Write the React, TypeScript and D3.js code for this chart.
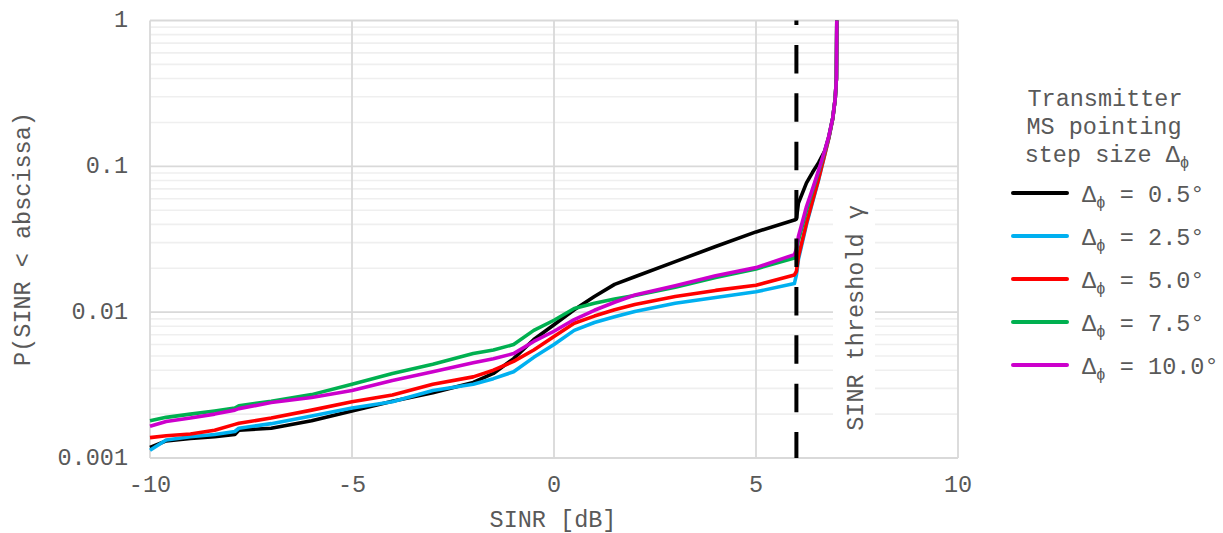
import React from "react";
import * as d3 from "d3";

// SINR grid (dB) shared by all empirical CDF curves
const sinrDb = [
  -10, -9.6, -9, -8.4, -7.9, -7.8, -7, -6, -5, -4,
  -3, -2, -1.5, -1, -0.5, 0, 0.5, 1, 1.5, 2,
  3, 4, 5, 5.95, 6, 6.05, 6.25, 6.4, 6.55, 6.7,
  6.8, 6.9, 6.96, 6.99, 7,
];

// P(SINR < abscissa) for each pointing step size
const pStep05 = [
  0.00118, 0.00131, 0.00136, 0.0014, 0.00145, 0.00155, 0.0016, 0.0018, 0.0021, 0.00245,
  0.0028, 0.0033, 0.0038, 0.0048, 0.0065, 0.0082, 0.0104, 0.0128, 0.0155, 0.0175,
  0.0222, 0.0282, 0.0355, 0.0428, 0.0435, 0.056, 0.077, 0.091, 0.106, 0.127,
  0.158, 0.215, 0.29, 0.4, 1,
];
const pStep25 = [
  0.00113, 0.00133, 0.0014, 0.00145, 0.00152, 0.0016, 0.00172, 0.00194, 0.0022, 0.00243,
  0.0029, 0.0032, 0.0035, 0.0039, 0.0049, 0.006, 0.0075, 0.0085, 0.0093, 0.0101,
  0.0115, 0.0126, 0.0138, 0.0157, 0.018, 0.023, 0.04, 0.057, 0.081, 0.12,
  0.155, 0.212, 0.29, 0.4, 1,
];
const pStep50 = [
  0.00138, 0.00142, 0.00146, 0.00155, 0.0017, 0.00173, 0.00188, 0.00213, 0.00243, 0.0027,
  0.0032, 0.0036, 0.004, 0.0046, 0.0055, 0.0068, 0.0084, 0.0094, 0.0104, 0.0113,
  0.0128, 0.0141, 0.0153, 0.018, 0.019, 0.024, 0.041, 0.058, 0.082, 0.12,
  0.155, 0.212, 0.29, 0.4, 1,
];
const pStep75 = [
  0.0018, 0.0019, 0.002, 0.0021, 0.0022, 0.00228, 0.00245, 0.00272, 0.0032, 0.0038,
  0.0044, 0.0052, 0.0055, 0.006, 0.0075, 0.0088, 0.0106, 0.0115, 0.0123, 0.013,
  0.0148, 0.0173, 0.0198, 0.0235, 0.026, 0.031, 0.05, 0.068, 0.092, 0.126,
  0.158, 0.215, 0.29, 0.4, 1,
];
const pStep100 = [
  0.00165, 0.00178, 0.00188, 0.002, 0.00213, 0.00218, 0.0024, 0.0026, 0.0029, 0.0034,
  0.0039, 0.0045, 0.0048, 0.0052, 0.0063, 0.0074, 0.0089, 0.0103, 0.0117, 0.0131,
  0.0152, 0.0178, 0.0202, 0.0248, 0.027, 0.033, 0.053, 0.07, 0.094, 0.128,
  0.16, 0.215, 0.29, 0.4, 1,
];

const seriesLabels = ["0.5°", "2.5°", "5.0°", "7.5°", "10.0°"];
const seriesValues = [pStep05, pStep25, pStep50, pStep75, pStep100];
const seriesColors = ["#000000", "#00b0f0", "#ff0000", "#00b050", "#cc00cc"];

const xTicks = [-10, -5, 0, 5, 10];
const yTicks = [0.001, 0.01, 0.1, 1];
const yTickLabels = ["0.001", "0.01", "0.1", "1"];
const thresholdDb = 6;

const W = 1223;
const H = 533;
const FONT = "'Liberation Mono', 'Courier New', monospace";
const TEXT = "#595959";

export default function App() {
  const x = d3.scaleLinear().domain([-10, 10]).range([150, 958]);
  const y = d3.scaleLog().domain([0.001, 1]).range([458, 20.5]);

  const minorTicks: number[] = [];
  for (let e = -3; e < 0; e++) {
    for (let m = 2; m <= 9; m++) minorTicks.push(m * Math.pow(10, e));
  }

  const line = d3
    .line<number>()
    .x((_, i) => x(sinrDb[i]))
    .y((d) => y(d));

  const legendX = 1013;
  const legendY0 = 193;
  const legendDy = 43;

  return (
    <div style={{ position: "absolute", left: 0, top: 0 }}>
      <svg width={W} height={H} style={{ display: "block", background: "#fff" }}>
        <rect x={0} y={0} width={W} height={H} fill="#ffffff" />
        {/* minor gridlines */}
        {minorTicks.map((t) => (
          <line key={"m" + t} x1={x(-10)} x2={x(10)} y1={y(t)} y2={y(t)} stroke="#efefef" strokeWidth={1.6} />
        ))}
        {/* major gridlines */}
        {yTicks.map((t) => (
          <line key={"y" + t} x1={x(-10)} x2={x(10)} y1={y(t)} y2={y(t)} stroke="#d9d9d9" strokeWidth={1.8} />
        ))}
        {xTicks.map((t) => (
          <line key={"x" + t} x1={x(t)} x2={x(t)} y1={y(1)} y2={y(0.001)} stroke="#d9d9d9" strokeWidth={1.8} />
        ))}

        {/* label backdrop for threshold annotation */}
        <rect x={833} y={197} width={42} height={240} fill="#ffffff" />
        <text
          transform={`translate(856,318) rotate(-90)`}
          textAnchor="middle"
          dominantBaseline="central"
          fontFamily={FONT}
          fontSize={23.5}
          fill={TEXT}
        >
          SINR threshold γ
        </text>

        {/* CDF curves */}
        {seriesValues.map((vals, i) => (
          <path
            key={"s" + i}
            d={line(vals) || ""}
            fill="none"
            stroke={seriesColors[i]}
            strokeWidth={3.6}
            strokeLinejoin="round"
          />
        ))}

        {/* SINR threshold */}
        <line
          x1={x(thresholdDb)}
          x2={x(thresholdDb)}
          y1={y(1)}
          y2={y(0.001)}
          stroke="#000"
          strokeWidth={4}
          strokeDasharray="28.5 19.9"
          strokeDashoffset={24}
        />

        {/* axis tick labels */}
        {xTicks.map((t) => (
          <text key={"xl" + t} x={x(t)} y={492} textAnchor="middle" fontFamily={FONT} fontSize={23.5} fill={TEXT}>
            {String(t)}
          </text>
        ))}
        {yTicks.map((t, i) => (
          <text
            key={"yl" + t}
            x={128}
            y={y(t)}
            textAnchor="end"
            dominantBaseline="central"
            fontFamily={FONT}
            fontSize={23.5}
            fill={TEXT}
          >
            {yTickLabels[i]}
          </text>
        ))}

        {/* axis titles */}
        <text x={553} y={527} textAnchor="middle" fontFamily={FONT} fontSize={23.5} fill={TEXT}>
          SINR [dB]
        </text>
        <text
          transform={`translate(23,239) rotate(-90)`}
          textAnchor="middle"
          dominantBaseline="central"
          fontFamily={FONT}
          fontSize={23.5}
          fill={TEXT}
        >
          P(SINR &lt; abscissa)
        </text>

        {/* legend */}
        <g fontFamily={FONT} fontSize={23.5} fill={TEXT}>
          <text x={1105} y={106} textAnchor="middle">Transmitter</text>
          <text x={1104} y={134} textAnchor="middle">MS pointing</text>
          <text x={1107} y={162} textAnchor="middle">
            step size Δ<tspan fontSize={16} dy={6}>ϕ</tspan>
          </text>
          {seriesLabels.map((lab, i) => {
            const ly = legendY0 + i * legendDy;
            return (
              <g key={"lg" + i}>
                <line
                  x1={legendX}
                  x2={legendX + 54}
                  y1={ly}
                  y2={ly}
                  stroke={seriesColors[i]}
                  strokeWidth={4}
                  strokeLinecap="round"
                />
                <text x={1082} y={ly + 8.5}>
                  Δ<tspan fontSize={16} dy={6}>ϕ</tspan>
                  <tspan dy={-6}>{" = " + lab}</tspan>
                </text>
              </g>
            );
          })}
        </g>
      </svg>
    </div>
  );
}
